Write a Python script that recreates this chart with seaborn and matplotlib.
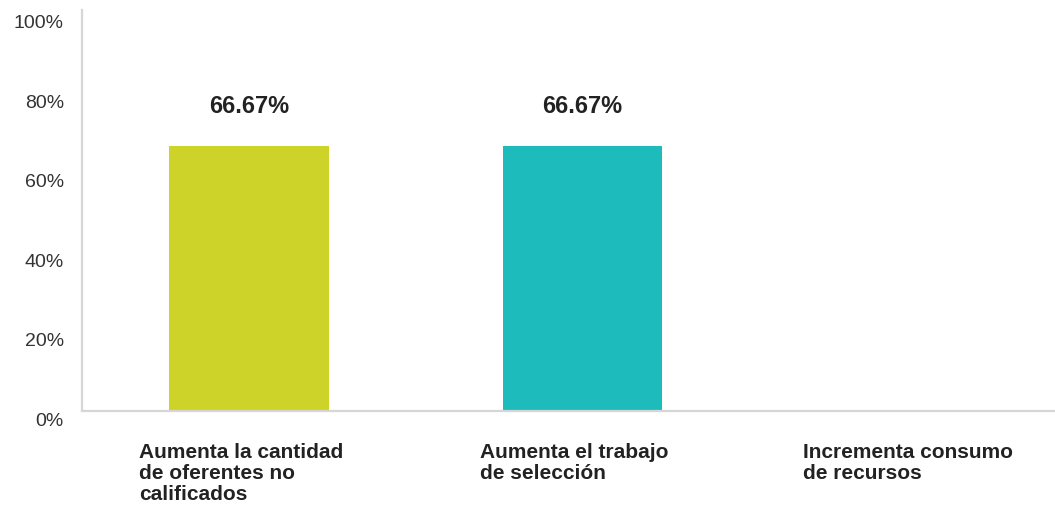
import matplotlib
matplotlib.use("Agg")
import matplotlib.pyplot as plt
import matplotlib.transforms as mtransforms
import seaborn as sns
import pandas as pd

categories = ["Aumenta la cantidad\nde oferentes no\ncalificados",
              "Aumenta el trabajo\nde selección",
              "Incrementa consumo\nde recursos"]
values = [66.67, 66.67, 0.0]
value_labels = ["66.67%", "66.67%", ""]
colors = ["#CDD329", "#1EBBBC", "#9E9E9E"]
yticks = [0, 20, 40, 60, 80, 100]
ytick_labels = ["0%", "20%", "40%", "60%", "80%", "100%"]

sns.set_style("white")
plt.rcParams['font.family'] = ['Liberation Sans', 'DejaVu Sans']

W, H, DPI = 1055, 507, 100
fig = plt.figure(figsize=(W / DPI, H / DPI), dpi=DPI)
ax = fig.add_axes([82 / W, 1 - 411 / H, 1 - 82 / W, (411 - 10) / H])

df = pd.DataFrame({"cat": categories, "val": values})
sns.barplot(data=df, x="cat", y="val", hue="cat", palette=colors,
            saturation=1, width=0.479, linewidth=0, legend=False, ax=ax)

ax.set_ylim(0, 101)
ax.set_xlim(-0.5, 2.5 - (1083 - 1055) / 334)
ax.set_xlabel("")
ax.set_ylabel("")

for s in ["top", "right"]:
    ax.spines[s].set_visible(False)
for s in ["left", "bottom"]:
    ax.spines[s].set_color("#d6d6d6")
    ax.spines[s].set_linewidth(1.6)

ax.set_yticks(yticks)
ax.set_yticklabels(ytick_labels, fontsize=14, color="#333333")
ax.tick_params(axis="y", length=0, pad=13)
off_y = mtransforms.ScaledTranslation(0, -8 / DPI, fig.dpi_scale_trans)
for lab in ax.get_yticklabels():
    lab.set_transform(lab.get_transform() + off_y)

ax.set_xticks(range(len(categories)))
ax.set_xticklabels(categories, fontsize=15, fontweight="bold", color="#222222",
                   ha="center", multialignment="left", linespacing=1.15)
ax.tick_params(axis="x", length=0, pad=23)
off_x = mtransforms.ScaledTranslation(-8 / DPI, 0, fig.dpi_scale_trans)
for lab in ax.get_xticklabels():
    lab.set_transform(lab.get_transform() + off_x)

for i, (v, t) in enumerate(zip(values, value_labels)):
    if t:
        ax.annotate(t, xy=(i, v), xytext=(0, 29), textcoords="offset points",
                    ha="center", va="center", fontsize=17, fontweight="bold",
                    color="#222222")

fig.savefig("out.png", dpi=DPI)
